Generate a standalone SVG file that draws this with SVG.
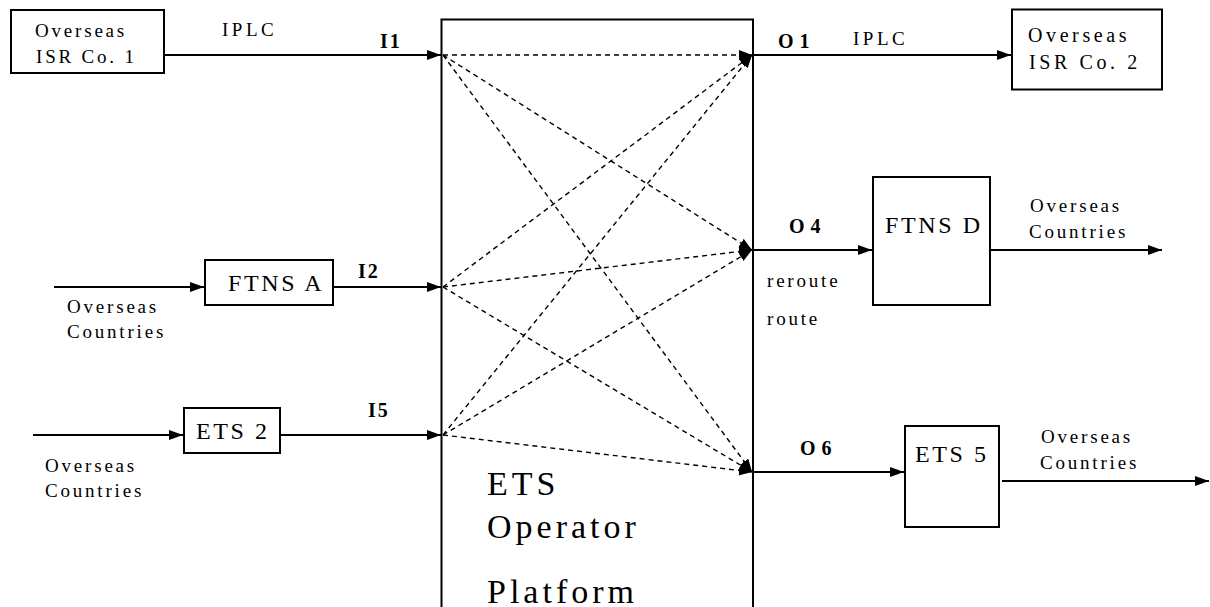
<svg xmlns="http://www.w3.org/2000/svg" width="1210" height="607" viewBox="0 0 1210 607">
<style>
.box{fill:#fff;stroke:#000;stroke-width:2}
.ln{fill:none;stroke:#000;stroke-width:2}
.dl{fill:none;stroke:#000;stroke-width:1.4;stroke-dasharray:5 4}
.t{font-family:'Liberation Serif','DejaVu Serif','Times New Roman',serif;fill:#000}
.s{font-size:19px;letter-spacing:2.8px}
.m{font-size:24px;letter-spacing:2.6px}
.b{font-size:20px;font-weight:bold;letter-spacing:2px}
.o{letter-spacing:6px}
.p{font-size:34px;letter-spacing:4px}
</style>
<defs>
<marker id="ah" markerUnits="userSpaceOnUse" markerWidth="15" markerHeight="12" refX="14" refY="5" orient="auto"><path d="M0,0 L14,5 L0,10 z" fill="#000"/></marker>
<marker id="dh" markerUnits="userSpaceOnUse" markerWidth="14" markerHeight="12" refX="13" refY="5" orient="auto"><path d="M0,0 L13,5 L0,10 z" fill="#000"/></marker>
</defs>
<rect width="1210" height="607" fill="#fff"/>

<g id="platform">
<rect class="box" x="441.5" y="19.5" width="311.5" height="600"/>
<text class="t p" x="487" y="495">ETS</text>
<text class="t p" x="487" y="538">Operator</text>
<text class="t p" x="487" y="603">Platform</text>
</g>

<g id="isr1">
<rect class="box" x="11" y="10" width="153" height="63"/>
<text class="t s" x="35" y="37">Overseas</text>
<text class="t s" x="36" y="63">ISR Co. 1</text>
</g>
<g id="isr2">
<rect class="box" x="1012" y="9.5" width="150" height="80"/>
<text class="t s" x="1028" y="42" style="font-size:20px;letter-spacing:3.6px">Overseas</text>
<text class="t s" x="1029" y="69" style="font-size:20px;letter-spacing:3.6px">ISR Co. 2</text>
</g>
<g id="ftnsA">
<rect class="box" x="205" y="260" width="128" height="45"/>
<text class="t m" x="228" y="291">FTNS A</text>
</g>
<g id="ets2">
<rect class="box" x="184" y="408" width="96" height="45"/>
<text class="t m" x="196" y="439">ETS 2</text>
</g>
<g id="ftnsD">
<rect class="box" x="873" y="177" width="117" height="128"/>
<text class="t m" x="885" y="233">FTNS D</text>
</g>
<g id="ets5">
<rect class="box" x="905" y="426" width="94" height="101"/>
<text class="t m" x="915" y="462">ETS 5</text>
</g>

<g id="connectors">
<line class="ln" x1="164" y1="55" x2="441" y2="55" marker-end="url(#ah)"/>
<line class="ln" x1="54" y1="287" x2="204" y2="287" marker-end="url(#ah)"/>
<line class="ln" x1="333" y1="287" x2="441" y2="287" marker-end="url(#ah)"/>
<line class="ln" x1="33" y1="435" x2="183" y2="435" marker-end="url(#ah)"/>
<line class="ln" x1="280" y1="435" x2="441" y2="435" marker-end="url(#ah)"/>
<line class="ln" x1="753" y1="55" x2="1011" y2="55" marker-end="url(#ah)"/>
<line class="ln" x1="753" y1="250" x2="872" y2="250" marker-end="url(#ah)"/>
<line class="ln" x1="990" y1="250" x2="1162" y2="250" marker-end="url(#ah)"/>
<line class="ln" x1="753" y1="472" x2="904" y2="472" marker-end="url(#ah)"/>
<line class="ln" x1="1002" y1="481" x2="1209" y2="481" marker-end="url(#ah)"/>

<line class="dl" x1="443" y1="55" x2="752" y2="55" marker-end="url(#dh)"/>
<line class="dl" x1="443" y1="55" x2="752" y2="250" marker-end="url(#dh)"/>
<line class="dl" x1="443" y1="55" x2="752" y2="472" marker-end="url(#dh)"/>
<line class="dl" x1="443" y1="287" x2="752" y2="55" marker-end="url(#dh)"/>
<line class="dl" x1="443" y1="287" x2="752" y2="250" marker-end="url(#dh)"/>
<line class="dl" x1="443" y1="287" x2="752" y2="472" marker-end="url(#dh)"/>
<line class="dl" x1="443" y1="435" x2="752" y2="55" marker-end="url(#dh)"/>
<line class="dl" x1="443" y1="435" x2="752" y2="250" marker-end="url(#dh)"/>
<line class="dl" x1="443" y1="435" x2="752" y2="472" marker-end="url(#dh)"/>
</g>

<g id="labels">
<text class="t s" x="222" y="36" style="letter-spacing:3.5px">IPLC</text>
<text class="t b" x="380" y="48">I1</text>
<text class="t b" x="358" y="278">I2</text>
<text class="t b" x="368" y="417">I5</text>
<text class="t b o" x="778" y="48">O1</text>
<text class="t s" x="853" y="45" style="letter-spacing:3.5px">IPLC</text>
<text class="t b o" x="789" y="233">O4</text>
<text class="t b o" x="800" y="455">O6</text>
<text class="t s" x="767" y="287">reroute</text>
<text class="t s" x="767" y="325">route</text>
<text class="t s" x="67" y="313">Overseas</text>
<text class="t s" x="67" y="338">Countries</text>
<text class="t s" x="45" y="472">Overseas</text>
<text class="t s" x="45" y="497">Countries</text>
<text class="t s" x="1030" y="212">Overseas</text>
<text class="t s" x="1029" y="238">Countries</text>
<text class="t s" x="1041" y="443">Overseas</text>
<text class="t s" x="1040" y="469">Countries</text>
</g>
</svg>
